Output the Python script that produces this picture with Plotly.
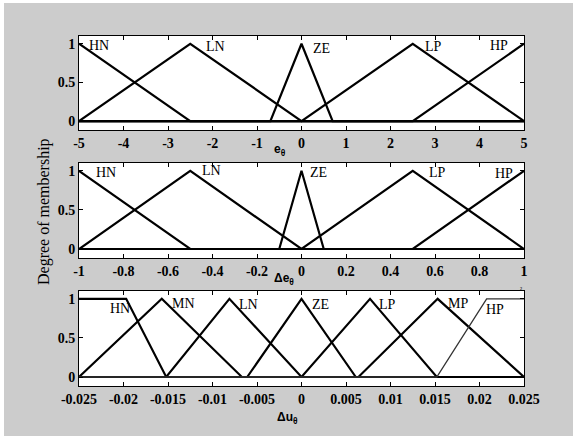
import plotly.graph_objects as go

W, H = 573, 436

# ---------------- data ----------------
# Panel 1: error e_theta (triangular MFs [a, b, c])
e_range = [-5, 5]
e_names = ["HN", "LN", "ZE", "LP", "HP"]
e_params = [[-7.5, -5, -2.5], [-5, -2.5, 0], [-0.7, 0, 0.7], [0, 2.5, 5], [2.5, 5, 7.5]]
e_ticks = [-5, -4, -3, -2, -1, 0, 1, 2, 3, 4, 5]
e_ticklabels = ["-5", "-4", "-3", "-2", "-1", "0", "1", "2", "3", "4", "5"]
e_label_x = [-4.56, -1.94, 0.45, 2.97, 4.44]
e_label_y = [0.98, 0.96, 0.94, 0.96, 0.98]

# Panel 2: change of error (triangular MFs)
de_range = [-1, 1]
de_names = ["HN", "LN", "ZE", "LP", "HP"]
de_params = [[-1.5, -1, -0.5], [-1, -0.5, 0], [-0.1, 0, 0.1], [0, 0.5, 1], [0.5, 1, 1.5]]
de_ticks = [-1, -0.8, -0.6, -0.4, -0.2, 0, 0.2, 0.4, 0.6, 0.8, 1]
de_ticklabels = ["-1", "-0.8", "-0.6", "-0.4", "-0.2", "0", "0.2", "0.4", "0.6", "0.8", "1"]
de_label_x = [-0.88, -0.405, 0.077, 0.611, 0.911]
de_label_y = [0.98, 1.0, 0.98, 0.98, 0.97]

# Panel 3: output change (trapezoidal MFs [a, b, c, d])
du_range = [-0.025, 0.025]
du_names = ["HN", "MN", "LN", "ZE", "LP", "MP", "HP"]
du_params = [
    [-0.035, -0.03, -0.0197, -0.0152],
    [-0.025, -0.0157, -0.0157, -0.0067],
    [-0.0152, -0.0081, -0.0081, 0.0],
    [-0.0061, 0.0, 0.0, 0.0061],
    [0.0, 0.0077, 0.0077, 0.0152],
    [0.0064, 0.0153, 0.0153, 0.025],
    [0.0152, 0.0208, 0.03, 0.035],
]
du_ticks = [-0.025, -0.02, -0.015, -0.01, -0.005, 0, 0.005, 0.01, 0.015, 0.02, 0.025]
du_ticklabels = ["-0.025", "-0.02", "-0.015", "-0.01", "-0.005", "0",
                 "0.005", "0.01", "0.015", "0.02", "0.025"]
du_label_x = [-0.0204, -0.0133, -0.0059, 0.0021, 0.00968, 0.01754, 0.0217]
du_label_y = [0.87, 0.945, 0.93, 0.93, 0.93, 0.945, 0.86]

y_ticks = [0, 0.5, 1]
y_ticklabels = ["0", "0.5", "1"]


# ---------------- helpers ----------------
def mf_value(x, p):
    if len(p) == 3:
        a, b, c, d = p[0], p[1], p[1], p[2]
    else:
        a, b, c, d = p
    if b <= x <= c:
        return 1.0
    if x <= a or x >= d:
        return 0.0
    if x < b:
        return (x - a) / (b - a)
    return (d - x) / (d - c)


def mf_curve(p, lo, hi):
    pts = [lo, hi] + [v for v in p if lo <= v <= hi]
    xs = sorted(set(pts))
    return xs, [mf_value(x, p) for x in xs]


fig = go.Figure()

panels = [
    ("x", "y", e_range, e_params, e_names, e_label_x, e_label_y),
    ("x2", "y2", de_range, de_params, de_names, de_label_x, de_label_y),
    ("x3", "y3", du_range, du_params, du_names, du_label_x, du_label_y),
]

annotations = []
for xr, yr, rng, params, names, lx, ly in panels:
    for i, p in enumerate(params):
        xs, ys = mf_curve(p, rng[0], rng[1])
        thin = (xr == "x3" and names[i] == "HP")
        fig.add_trace(go.Scatter(
            x=xs, y=ys, mode="lines", xaxis=xr, yaxis=yr,
            line=dict(color="#333333" if thin else "black", width=1.3 if thin else 2.2),
            showlegend=False, hoverinfo="skip"))
        annotations.append(dict(
            x=lx[i], y=ly[i], xref=xr, yref=yr, text=names[i], showarrow=False,
            xanchor="center", yanchor="middle",
            font=dict(family="Liberation Serif", size=14, color="black")))


def px(xp):
    return xp / W


def py(yp):
    return 1 - yp / H


# axis titles & extra text
title_font = dict(family="Liberation Sans", size=12, color="black", weight="bold")
annotations += [
    dict(x=px(280), y=py(150), xref="paper", yref="paper", text="e<sub>θ</sub>",
         showarrow=False, font=title_font, xanchor="center", yanchor="middle"),
    dict(x=px(284), y=py(279), xref="paper", yref="paper", text="Δe<sub>θ</sub>",
         showarrow=False, font=title_font, xanchor="center", yanchor="middle"),
    dict(x=px(287), y=py(418), xref="paper", yref="paper", text="Δu<sub>θ</sub>",
         showarrow=False, font=title_font, xanchor="center", yanchor="middle"),
    dict(x=px(44), y=py(212), xref="paper", yref="paper", text="Degree of membership",
         textangle=-90, showarrow=False, xanchor="center", yanchor="middle",
         font=dict(family="Liberation Serif", size=16, color="black")),
    dict(x=px(521), y=py(290), xref="paper", yref="paper", text="²",
         showarrow=False, xanchor="center", yanchor="middle",
         font=dict(family="Liberation Serif", size=7, color="black")),
]

tickfont = dict(family="Liberation Serif", size=14, color="black", weight="bold")
axis_common = dict(showline=True, linecolor="black", linewidth=1, mirror="allticks",
                   ticks="inside", ticklen=4, tickwidth=1, tickcolor="black",
                   showgrid=False, zeroline=False, tickfont=tickfont, fixedrange=True,
                   automargin=False)

xdom = [px(79), px(524)]
ydoms = [[py(130), py(36)], [py(258), py(163)], [py(386), py(291)]]
yrange = [-0.115, 1.1]

layout = dict(
    width=W, height=H, autosize=False,
    margin=dict(l=0, r=0, t=0, b=0, pad=0, autoexpand=False),
    paper_bgcolor="#cccccc", plot_bgcolor="white",
    annotations=annotations,
    shapes=[
        dict(type="rect", xref="paper", yref="paper", x0=0, x1=1, y0=py(3), y1=1,
             fillcolor="white", line=dict(width=0), layer="below"),
        dict(type="rect", xref="paper", yref="paper", x0=0, x1=px(4), y0=0, y1=1,
             fillcolor="white", line=dict(width=0), layer="below"),
    ],
)

xinfo = [(e_range, e_ticks, e_ticklabels), (de_range, de_ticks, de_ticklabels),
         (du_range, du_ticks, du_ticklabels)]
for k in range(3):
    suffix = "" if k == 0 else str(k + 1)
    rng, tv, tt = xinfo[k]
    layout["xaxis" + suffix] = dict(axis_common, domain=xdom, range=rng,
                                    tickvals=tv, ticktext=tt,
                                    anchor="y" + suffix)
    layout["yaxis" + suffix] = dict(axis_common, domain=ydoms[k], range=yrange,
                                    tickvals=y_ticks, ticktext=y_ticklabels,
                                    anchor="x" + suffix)

fig.update_layout(**layout)
fig.write_html("out.html", config={"responsive": False, "displayModeBar": False},
               post_script="document.body.style.margin='0';document.body.style.overflow='hidden';")
